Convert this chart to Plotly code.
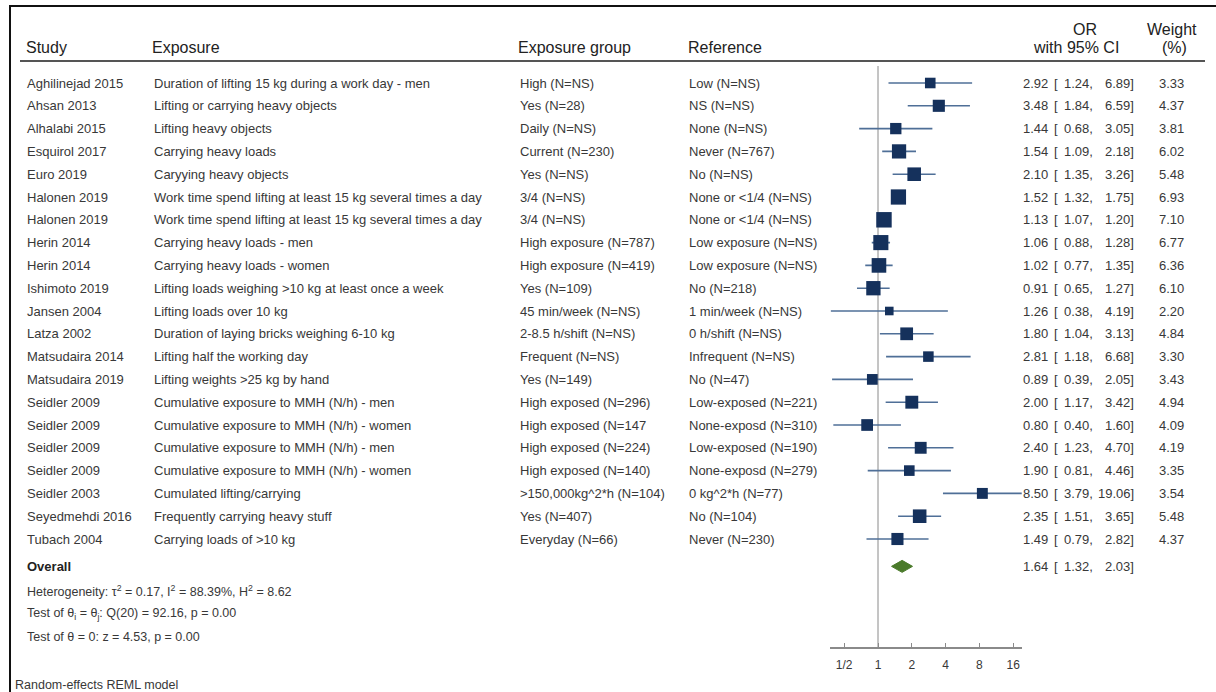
import math
import plotly.graph_objects as go

# ---- study data -------------------------------------------------------------
studies = [
    "Aghilinejad 2015", "Ahsan 2013", "Alhalabi 2015", "Esquirol 2017", "Euro 2019",
    "Halonen 2019", "Halonen 2019", "Herin 2014", "Herin 2014", "Ishimoto 2019",
    "Jansen 2004", "Latza 2002", "Matsudaira 2014", "Matsudaira 2019", "Seidler 2009",
    "Seidler 2009", "Seidler 2009", "Seidler 2009", "Seidler 2003", "Seyedmehdi 2016",
    "Tubach 2004",
]
exposures = [
    "Duration of lifting 15 kg during a work day - men",
    "Lifting or carrying heavy objects",
    "Lifting heavy objects",
    "Carrying heavy loads",
    "Caryying heavy objects",
    "Work time spend lifting at least 15 kg several times a day",
    "Work time spend lifting at least 15 kg several times a day",
    "Carrying heavy loads - men",
    "Carrying heavy loads - women",
    "Lifting loads weighing >10 kg at least once a week",
    "Lifting loads over 10 kg",
    "Duration of laying bricks weighing 6-10 kg",
    "Lifting half the working day",
    "Lifting weights >25 kg by hand",
    "Cumulative exposure to MMH (N/h) - men",
    "Cumulative exposure to MMH (N/h) - women",
    "Cumulative exposure to MMH (N/h) - men",
    "Cumulative exposure to MMH (N/h) - women",
    "Cumulated lifting/carrying",
    "Frequently carrying heavy stuff",
    "Carrying loads of >10 kg",
]
exposure_groups = [
    "High (N=NS)", "Yes (N=28)", "Daily (N=NS)", "Current (N=230)", "Yes (N=NS)",
    "3/4 (N=NS)", "3/4 (N=NS)", "High exposure (N=787)", "High exposure (N=419)",
    "Yes (N=109)", "45 min/week (N=NS)", "2-8.5 h/shift (N=NS)", "Frequent (N=NS)",
    "Yes (N=149)", "High exposed (N=296)", "High exposed (N=147", "High exposed (N=224)",
    "High exposed (N=140)", ">150,000kg^2*h (N=104)", "Yes (N=407)", "Everyday (N=66)",
]
references = [
    "Low (N=NS)", "NS (N=NS)", "None (N=NS)", "Never (N=767)", "No (N=NS)",
    "None or <1/4 (N=NS)", "None or <1/4 (N=NS)", "Low exposure (N=NS)",
    "Low exposure (N=NS)", "No (N=218)", "1 min/week (N=NS)", "0 h/shift (N=NS)",
    "Infrequent (N=NS)", "No (N=47)", "Low-exposed (N=221)", "None-exposd (N=310)",
    "Low-exposed (N=190)", "None-exposd (N=279)", "0 kg^2*h (N=77)", "No (N=104)",
    "Never (N=230)",
]
odds_ratio = [2.92, 3.48, 1.44, 1.54, 2.10, 1.52, 1.13, 1.06, 1.02, 0.91, 1.26,
              1.80, 2.81, 0.89, 2.00, 0.80, 2.40, 1.90, 8.50, 2.35, 1.49]
ci_low = [1.24, 1.84, 0.68, 1.09, 1.35, 1.32, 1.07, 0.88, 0.77, 0.65, 0.38,
          1.04, 1.18, 0.39, 1.17, 0.40, 1.23, 0.81, 3.79, 1.51, 0.79]
ci_high = [6.89, 6.59, 3.05, 2.18, 3.26, 1.75, 1.20, 1.28, 1.35, 1.27, 4.19,
           3.13, 6.68, 2.05, 3.42, 1.60, 4.70, 4.46, 19.06, 3.65, 2.82]
weights = [3.33, 4.37, 3.81, 6.02, 5.48, 6.93, 7.10, 6.77, 6.36, 6.10, 2.20,
           4.84, 3.30, 3.43, 4.94, 4.09, 4.19, 3.35, 3.54, 5.48, 4.37]

overall_or = 1.64
overall_low = 1.32
overall_high = 2.03

tick_values = [0.5, 1, 2, 4, 8, 16]
tick_labels = ["1/2", "1", "2", "4", "8", "16"]

footer_lines = [
    "Heterogeneity: \u03c4<sup>2</sup> = 0.17, I<sup>2</sup> = 88.39%, H<sup>2</sup> = 8.62",
    "Test of \u03b8<sub>i</sub> = \u03b8<sub>j</sub>: Q(20) = 92.16, p = 0.00",
    "Test of \u03b8 = 0: z = 4.53, p = 0.00",
]

# ---- page geometry ----------------------------------------------------------
W, H = 1216, 692
FONT = "Liberation Sans, Arial, Helvetica, sans-serif"
TXT = "#383838"
HDR = "#222222"
SQUARE = "#15315c"
WHISKER = "#4f6f97"
DIAMOND = "#4a7a2a"

ROW0_PX, ROW_STEP = 83.0, 22.8          # first study row and row pitch
n = len(studies)
rows = list(range(1, n + 1))
overall_row = n + 1.2


def px_x(p):
    return p / W


def px_y(p):
    return 1 - p / H


# row-unit y scale spanning the whole page (reversed: row 1 at top)
y_top = 1 - ROW0_PX / ROW_STEP
y_bottom = 1 + (H - ROW0_PX) / ROW_STEP

# log2 x scale: 1 at 878 px, 33.8 px per doubling
X_ONE, X_OCT = 878.0, 33.8
x_lo_val, x_hi_val = 0.375, 19.2
x_dom = [px_x(X_ONE + X_OCT * math.log2(x_lo_val)), px_x(X_ONE + X_OCT * math.log2(x_hi_val))]

fig = go.Figure()

# confidence-interval whiskers
wx, wy = [], []
for r, lo, hi in zip(rows, ci_low, ci_high):
    wx += [lo, hi, None]
    wy += [r, r, None]
fig.add_trace(go.Scatter(x=wx, y=wy, mode="lines",
                         line=dict(color=WHISKER, width=1.6),
                         hoverinfo="skip", showlegend=False))

# weighted point estimates (area proportional to weight)
fig.add_trace(go.Scatter(
    x=odds_ratio, y=rows, mode="markers",
    marker=dict(symbol="square", color=SQUARE, opacity=1,
                size=[5.8 * math.sqrt(w) for w in weights],
                line=dict(width=0)),
    cliponaxis=False, showlegend=False,
    customdata=weights,
    hovertemplate="OR %{x:.2f}<br>Weight %{customdata:.2f}%<extra></extra>",
))

# pooled estimate diamond
half_h = 6.0 / ROW_STEP
fig.add_trace(go.Scatter(
    x=[overall_low, overall_or, overall_high, overall_or, overall_low],
    y=[overall_row, overall_row - half_h, overall_row, overall_row + half_h, overall_row],
    mode="lines", fill="toself", fillcolor=DIAMOND,
    line=dict(color=DIAMOND, width=1), hoverinfo="skip", showlegend=False,
))

annotations = []


def note(text, x, y, anchor="left", size=13, color=TXT, yref="y", bold=False):
    if bold:
        text = "<b>" + text + "</b>"
    annotations.append(dict(
        text=text, x=x, y=y, xref="paper", yref=yref, xanchor=anchor, yanchor="middle",
        showarrow=False, font=dict(family=FONT, size=size, color=color),
    ))


# column headers
note("Study", px_x(24), px_y(48), size=16, color=HDR, yref="paper")
note("Exposure", px_x(150), px_y(48), size=16, color=HDR, yref="paper")
note("Exposure group", px_x(516), px_y(48), size=16, color=HDR, yref="paper")
note("Reference", px_x(686), px_y(48), size=16, color=HDR, yref="paper")
note("OR", px_x(1085), px_y(30), anchor="center", size=16, color=HDR, yref="paper")
note("with 95% CI", px_x(1076), px_y(48), anchor="center", size=16, color=HDR, yref="paper")
note("Weight", px_x(1172), px_y(30), anchor="center", size=16, color=HDR, yref="paper")
note("(%)", px_x(1174), px_y(48), anchor="center", size=16, color=HDR, yref="paper")

# study rows
for r, s, e, g, ref, o, lo, hi, w in zip(rows, studies, exposures, exposure_groups,
                                           references, odds_ratio, ci_low, ci_high, weights):
    note(s, px_x(25), r)
    note(e, px_x(152), r)
    note(g, px_x(518), r)
    note(ref, px_x(687), r)
    note(f"{o:.2f}", px_x(1050), r, anchor="right")
    note("[", px_x(1052), r)
    note(f"{lo:.2f},", px_x(1095), r, anchor="right")
    note(f"{hi:.2f}]", px_x(1136), r, anchor="right")
    note(f"{w:.2f}", px_x(1186), r, anchor="right")

# pooled row
note("Overall", px_x(25), overall_row, bold=True, color=HDR)
note(f"{overall_or:.2f}", px_x(1050), overall_row, anchor="right")
note("[", px_x(1052), overall_row)
note(f"{overall_low:.2f},", px_x(1095), overall_row, anchor="right")
note(f"{overall_high:.2f}]", px_x(1136), overall_row, anchor="right")

for i, line in enumerate(footer_lines):
    note(line, px_x(25), px_y(591 + 23 * i), size=12.5, yref="paper")
note("Random-effects REML model", px_x(13), px_y(685), size=12.5, yref="paper")

shapes = [
    # frame (top and left edges)
    dict(type="line", xref="paper", yref="paper", x0=px_x(9), x1=1, y0=px_y(6), y1=px_y(6),
         line=dict(color="#111111", width=2)),
    dict(type="line", xref="paper", yref="paper", x0=px_x(10), x1=px_x(10), y0=px_y(5), y1=0,
         line=dict(color="#111111", width=2)),
    # header rule
    dict(type="line", xref="paper", yref="paper", x0=px_x(20), x1=px_x(1205),
         y0=px_y(61), y1=px_y(61), line=dict(color="#555555", width=2)),
    # line of no effect
    dict(type="line", xref="x", yref="paper", x0=1, x1=1, y0=px_y(66), y1=px_y(648),
         line=dict(color="#8a8a8a", width=1), layer="below"),
]

fig.update_layout(
    width=W, height=H, autosize=False,
    margin=dict(l=0, r=0, t=0, b=0),
    paper_bgcolor="white", plot_bgcolor="rgba(0,0,0,0)",
    font=dict(family=FONT, size=13, color=TXT),
    showlegend=False,
    annotations=annotations,
    shapes=shapes,
    xaxis=dict(
        type="log", domain=x_dom,
        range=[math.log10(x_lo_val), math.log10(x_hi_val)],
        anchor="free", position=px_y(648),
        showline=True, linecolor="#8a8a8a", linewidth=1.5,
        showgrid=False, zeroline=False,
        ticks="inside", ticklen=4, tickcolor="#8a8a8a", tickwidth=1,
        tickvals=tick_values, ticktext=tick_labels,
        tickfont=dict(family=FONT, size=12, color=TXT),
        ticklabelstandoff=6,
        fixedrange=True,
    ),
    yaxis=dict(
        range=[y_bottom, y_top], domain=[0, 1],
        visible=False, showgrid=False, zeroline=False, fixedrange=True,
    ),
)

fig.write_html("out.html")
